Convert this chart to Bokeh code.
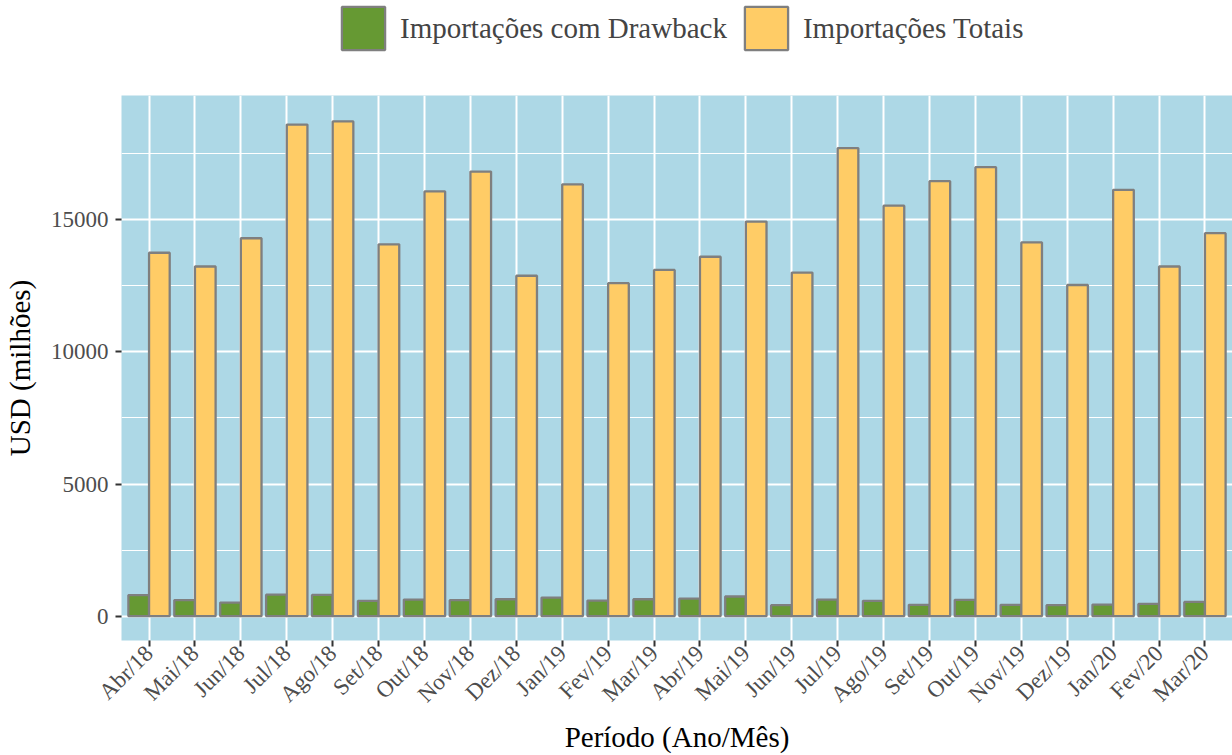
import numpy as np
from bokeh.plotting import figure
from bokeh.layouts import column
from bokeh.models import ColumnDataSource, Range1d, FixedTicker, Legend, LegendItem
from bokeh.embed import file_html
from bokeh.resources import INLINE

months = ["Abr/18", "Mai/18", "Jun/18", "Jul/18", "Ago/18", "Set/18", "Out/18", "Nov/18",
          "Dez/18", "Jan/19", "Fev/19", "Mar/19", "Abr/19", "Mai/19", "Jun/19", "Jul/19",
          "Ago/19", "Set/19", "Out/19", "Nov/19", "Dez/19", "Jan/20", "Fev/20", "Mar/20"]
drawback = [800, 610, 515, 815, 805, 580, 630, 605, 640, 705, 590, 640,
            665, 745, 415, 630, 580, 430, 620, 430, 415, 440, 465, 540]
totais = [13750, 13230, 14300, 18600, 18720, 14070, 16070, 16820, 12880, 16340, 12600, 13100,
          13600, 14930, 13000, 17710, 15530, 16460, 16990, 14140, 12530, 16130, 13230, 14490]
series_names = ["Importações com Drawback", "Importações Totais"]
y_ticks = [0, 5000, 10000, 15000]
y_minor = [2500, 7500, 12500, 17500]

FONT = "Liberation Serif"
GREEN = "#669933"
ORANGE = "#FFCC66"
EDGE = "#7F7F7F"
W = 1232
LEFT = 120
TOP_H = 88

idx = np.arange(1, len(months) + 1)
src = ColumnDataSource(dict(x_d=idx - 0.225, x_t=idx + 0.225, drawback=drawback, totais=totais))

# ---- legend strip on top ----
lf = figure(width=W, height=TOP_H, output_backend="svg", toolbar_location=None,
            x_axis_location=None, y_axis_location=None,
            min_border_left=LEFT, min_border_right=0, min_border_top=0, min_border_bottom=0,
            x_range=Range1d(0, 1), y_range=Range1d(0, 1))
lf.grid.visible = False
lf.outline_line_color = None
lf.background_fill_color = "white"
lf.border_fill_color = "white"
# legend proxies (not drawn: NaN position)
g1 = lf.vbar(x=[np.nan], top=[np.nan], bottom=[np.nan], width=0.1,
             fill_color=GREEN, line_color=EDGE, line_width=2.3)
g2 = lf.vbar(x=[np.nan], top=[np.nan], bottom=[np.nan], width=0.1,
             fill_color=ORANGE, line_color=EDGE, line_width=2.3)
legend = Legend(items=[LegendItem(label=series_names[0], renderers=[g1]),
                       LegendItem(label=series_names[1], renderers=[g2])],
                orientation="horizontal", location=(215 - LEFT + 120 - 120 + 0, TOP_H - 55),
                glyph_width=54, glyph_height=54, label_standoff=10, spacing=12,
                padding=0, margin=0, border_line_color=None, background_fill_alpha=0,
                label_text_font=FONT, label_text_font_size="29px")
legend.location = (215, TOP_H - 55)
lf.add_layout(legend)

# ---- main chart ----
p = figure(width=W, height=755 - TOP_H, output_backend="svg", toolbar_location=None,
           x_range=Range1d(0.4, len(months) + 0.6), y_range=Range1d(-920, 19700),
           min_border_left=LEFT, min_border_right=0, min_border_top=7, min_border_bottom=100)
p.background_fill_color = "#ADD8E6"
p.border_fill_color = "white"
p.outline_line_color = None

p.vbar(x="x_d", top="drawback", bottom=0, width=0.45, source=src,
       fill_color=GREEN, line_color=EDGE, line_width=2.3)
p.vbar(x="x_t", top="totais", bottom=0, width=0.45, source=src,
       fill_color=ORANGE, line_color=EDGE, line_width=2.3)

p.xaxis.ticker = FixedTicker(ticks=[int(i) for i in idx])
p.xaxis.major_label_overrides = {int(i): m for i, m in zip(idx, months)}
p.xaxis.major_label_orientation = np.pi / 4
p.yaxis.ticker = FixedTicker(ticks=y_ticks, minor_ticks=y_minor)

p.xgrid.grid_line_color = "white"
p.xgrid.grid_line_width = 2
p.ygrid.grid_line_color = "white"
p.ygrid.grid_line_width = 2
p.ygrid.minor_grid_line_color = "white"
p.ygrid.minor_grid_line_width = 1

for ax in (p.xaxis[0], p.yaxis[0]):
    ax.axis_line_color = None
    ax.major_tick_line_color = "#333333"
    ax.major_tick_line_width = 2
    ax.major_tick_out = 6
    ax.major_tick_in = 0
    ax.minor_tick_line_color = None
    ax.major_label_text_font = FONT
    ax.major_label_text_font_size = "23px"
    ax.major_label_text_color = "#4D4D4D"
    ax.axis_label_text_font = FONT
    ax.axis_label_text_font_size = "29px"
    ax.axis_label_text_font_style = "normal"
    ax.axis_label_text_color = "black"

p.xaxis.axis_label = "Período (Ano/Mês)"
p.yaxis.axis_label = "USD (milhões)"
p.yaxis.major_label_standoff = 7
p.yaxis.axis_label_standoff = 12
p.xaxis.major_label_standoff = 3
p.xaxis.axis_label_standoff = 2

layout = column(lf, p, spacing=0)
open("out.html", "w").write(file_html(layout, INLINE))
